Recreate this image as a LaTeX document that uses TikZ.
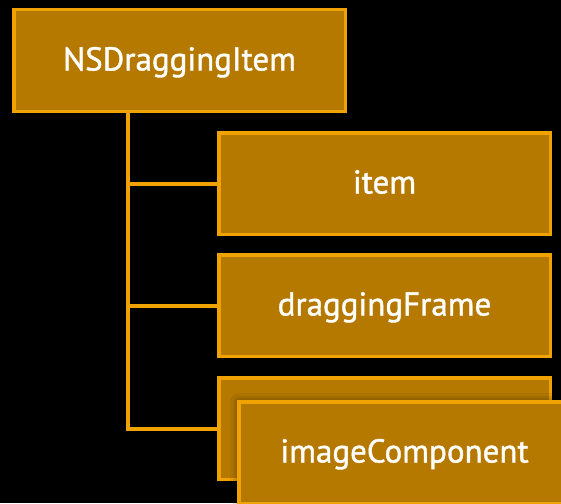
\documentclass[tikz,border=0pt]{standalone}
\usepackage{fontspec}
\setmainfont{PT Sans}[FakeBold=1.2]
\usetikzlibrary{shadows.blur}
\definecolor{boxfill}{RGB}{181,121,0}
\definecolor{boxline}{RGB}{240,162,0}
\tikzset{
  itembox/.style={draw=boxline, fill=boxfill, line width=3.5pt,
    minimum width=331.5pt, minimum height=101.5pt, inner sep=0pt,
    text=white, font=\fontsize{33}{40}\selectfont,
    text height=20pt, text depth=0pt},
  wire/.style={draw=boxline, line width=4pt}
}
\begin{document}
\begin{tikzpicture}[x=1pt,y=-1pt]
  \fill[black] (0,0) rectangle (561,503);
  \useasboundingbox (0,0) rectangle (561,503);
  \clip (0,0) rectangle (561,503);
  % root object and its properties
  \node[itembox] (root)  at (179.5,60.5)  {NSDraggingItem};
  \node[itembox] (item)  at (384.5,183.5) {item};
  \node[itembox] (frame) at (384.5,305.5) {draggingFrame};
  \node[itembox] (comps) at (384.5,428.5) {};
  % tree connectors
  \coordinate (spine) at ([xshift=116pt]root.south west);
  \draw[wire] (spine) |- (comps.west);
  \draw[wire] (spine |- item.west) -- (item.west);
  \draw[wire] (spine |- frame.west) -- (frame.west);
  % image component stacked on top
  \node[itembox, blur shadow={shadow xshift=0pt, shadow yshift=0pt,
        shadow blur radius=8pt, shadow opacity=60}]
        (image) at (404.5,452.5) {imageComponent};
\end{tikzpicture}
\end{document}
